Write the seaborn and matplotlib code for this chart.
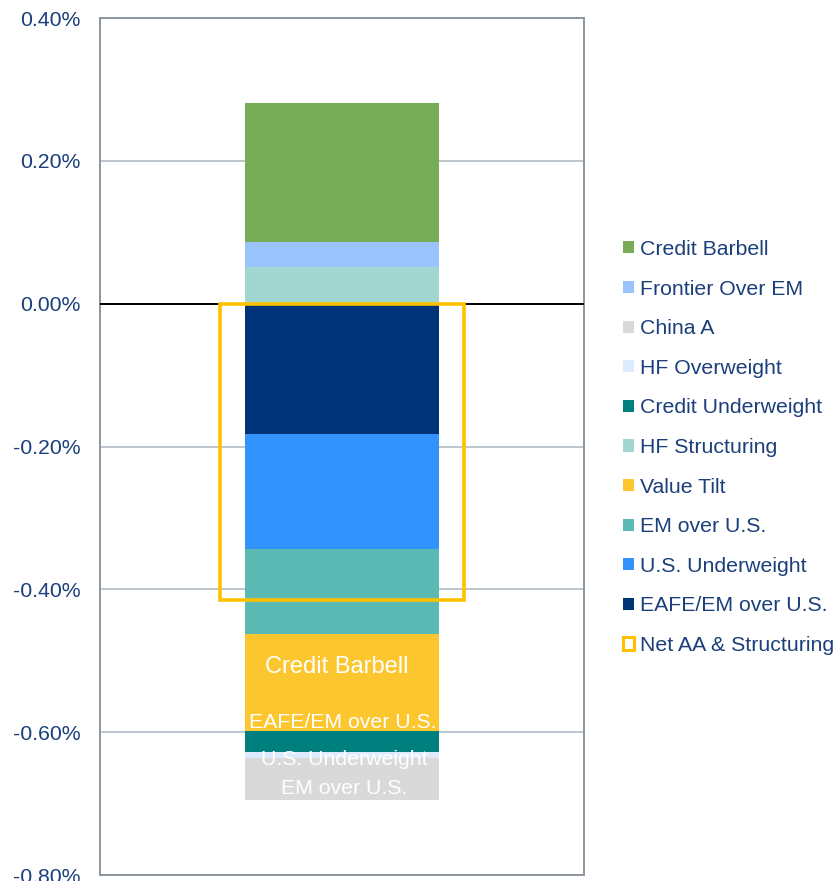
import matplotlib
matplotlib.use("Agg")
import matplotlib.pyplot as plt
from matplotlib.patches import Patch
from matplotlib.ticker import FuncFormatter
import seaborn as sns
import pandas as pd

# ---- data (values in %) ----
pos_names = ["HF Structuring", "Frontier Over EM", "Credit Barbell"]
pos_values = [0.052, 0.035, 0.194]
neg_names = ["EAFE/EM over U.S.", "U.S. Underweight", "EM over U.S.", "Value Tilt",
             "Credit Underweight", "HF Overweight", "China A"]
neg_values = [-0.182, -0.162, -0.118, -0.137, -0.029, -0.008, -0.059]
net_name = "Net AA & Structuring"
net_value = -0.415
legend_order = ["Credit Barbell", "Frontier Over EM", "China A", "HF Overweight",
                "Credit Underweight", "HF Structuring", "Value Tilt", "EM over U.S.",
                "U.S. Underweight", "EAFE/EM over U.S.", "Net AA & Structuring"]
inbar_labels = ["Credit Barbell", "EAFE/EM over U.S.", "U.S. Underweight", "EM over U.S."]
yticks = [-0.8, -0.6, -0.4, -0.2, 0.0, 0.2, 0.4]

colors = {
    "Credit Barbell": "#76AD56",
    "Frontier Over EM": "#99C3FD",
    "China A": "#D9D9D9",
    "HF Overweight": "#DDEBFE",
    "Credit Underweight": "#007F7F",
    "HF Structuring": "#A2D7D1",
    "Value Tilt": "#FCC62F",
    "EM over U.S.": "#5CBAB5",
    "U.S. Underweight": "#3393FD",
    "EAFE/EM over U.S.": "#003478",
    "Net AA & Structuring": "#FFC000",
}
TXT = "#1B3F7A"

sns.set_theme(style="white")
plt.rcParams["font.family"] = ["Liberation Sans", "DejaVu Sans"]

fig = plt.figure(figsize=(8.39, 8.81), dpi=100)
ax = fig.add_axes([100/839, 1-875/881, 484/839, 857/881])

# cumulative stacks, drawn from outermost to innermost
def cum(vals):
    out, s = [], 0.0
    for v in vals:
        s += v
        out.append(s)
    return out

rows = []
for n, c in zip(pos_names, cum(pos_values)):
    rows.append((n, c))
for n, c in zip(neg_names, cum(neg_values)):
    rows.append((n, c))
df = pd.DataFrame(rows, columns=["name", "cum"])
df["x"] = "Total"
df["order"] = df["cum"].abs()
df = df.sort_values("order", ascending=False)

for _, r in df.iterrows():
    sns.barplot(x=[r["x"]], y=[r["cum"]], color=colors[r["name"]], width=0.4,
                saturation=1, ax=ax, zorder=2, linewidth=0)

# Net box
sns.barplot(x=["Total"], y=[net_value], width=0.504, fill=False,
            edgecolor=colors[net_name], linewidth=2.6, ax=ax, zorder=4)

# white in-bar labels
label_pos = [(-0.010, -0.509, 17), (0.002, -0.587, 15.3), (0.005, -0.638, 15.3), (0.004, -0.679, 15.3)]
for t, (xx, yy, fs) in zip(inbar_labels, label_pos):
    ax.text(xx, yy, t, color="white", fontsize=fs, ha="center", va="center", zorder=5)

ax.set_xlim(-0.5, 0.5)
ax.set_ylim(-0.8, 0.4)
ax.set_yticks(yticks)
ax.yaxis.set_major_formatter(FuncFormatter(lambda v, p: f"{v:.2f}%"))
ax.set_xticks([])
ax.set_xlabel("")
ax.set_ylabel("")
ax.tick_params(axis="y", length=0, pad=14, labelsize=15.3, labelcolor=TXT)
ax.grid(axis="y", color="#BFC5CC", linewidth=1.4, zorder=0)
ax.set_axisbelow(True)
ax.axhline(0, color="black", linewidth=1.4, zorder=3)
for s in ax.spines.values():
    s.set_color("#8C969F")
    s.set_linewidth(1.4)

handles = []
for n in legend_order:
    if n == net_name:
        handles.append(Patch(facecolor="white", edgecolor=colors[n], linewidth=2.2, label=n))
    else:
        handles.append(Patch(facecolor=colors[n], edgecolor="none", label=n))
leg = fig.legend(handles=handles, loc="center left", bbox_to_anchor=(623/839, 1-447.5/881),
                 frameon=False, fontsize=15.3, handlelength=0.5, handleheight=0.5,
                 handletextpad=0.3, labelspacing=0.97, borderpad=0, borderaxespad=0)
for t in leg.get_texts():
    t.set_color(TXT)

fig.savefig("out.png", dpi=100)
